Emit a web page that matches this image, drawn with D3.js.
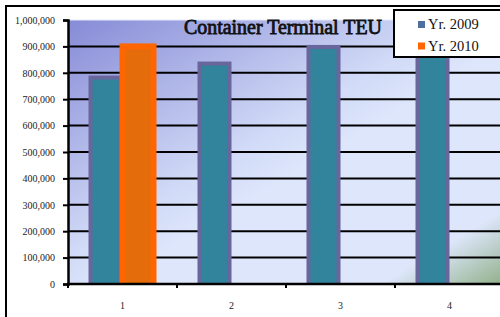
<!DOCTYPE html>
<html>
<head>
<meta charset="utf-8">
<script src="https://cdn.jsdelivr.net/npm/d3@7"></script>
<style>
html,body{margin:0;padding:0;background:#fff;}
svg{display:block;}
</style>
</head>
<body>
<svg id="c" width="500" height="317"></svg>
<script>
const categories = ["1", "2", "3", "4"];
const seriesNames = ["Yr. 2009", "Yr. 2010"];
const values2009 = [782000, 835000, 898000, 870000];
const values2010 = [900000, null, null, null];
const yTicks = [0,100000,200000,300000,400000,500000,600000,700000,800000,900000,1000000];
const titleText = "Container Terminal TEU";

const svg = d3.select("#c");
const pLeft = 68, pRight = 504, pTop = 20, pBottom = 284;
const SERIF = '"Liberation Serif","Times New Roman",Times,serif';

// outer frame
svg.append("rect").attr("x",6).attr("y",6).attr("width",600).attr("height",400)
  .attr("fill","#fff").attr("stroke","#000").attr("stroke-width",2);

const defs = svg.append("defs");
const g = defs.append("linearGradient").attr("id","bg")
  .attr("x1","0").attr("y1","0").attr("x2","1").attr("y2","1");
g.append("stop").attr("offset","0").attr("stop-color","#868bd6");
g.append("stop").attr("offset","0.45").attr("stop-color","#d2dbf7");
g.append("stop").attr("offset","0.55").attr("stop-color","#dde6fb");
g.append("stop").attr("offset","0.86").attr("stop-color","#dde6fb");
g.append("stop").attr("offset","1").attr("stop-color","#8fb088");
defs.append("clipPath").attr("id","plotclip").append("rect")
  .attr("x",pLeft).attr("y",0).attr("width",pRight-pLeft).attr("height",pBottom);

const x0 = d3.scaleBand().domain(categories).range([pLeft, pRight]).padding(0);
const bw = x0.bandwidth();
const x1 = d3.scaleBand().domain(seriesNames).range([bw/2 - 34, bw/2 + 34]);
const y = d3.scaleLinear().domain([0, 1000000]).range([pBottom, pTop]);

svg.append("rect").attr("x",pLeft).attr("y",pTop).attr("width",pRight-pLeft).attr("height",pBottom-pTop)
  .attr("fill","url(#bg)");
svg.append("line").attr("x1",pLeft).attr("x2",pRight).attr("y1",pTop).attr("y2",pTop)
  .attr("stroke","#e6eafc").attr("stroke-width",1);

// gridlines
svg.append("g").selectAll("line").data(yTicks.filter(t => t > 0 && t < 1000000)).join("line")
  .attr("x1",pLeft).attr("x2",pRight).attr("y1",d=>y(d)).attr("y2",d=>y(d))
  .attr("stroke","#000").attr("stroke-width",2);

const barsG = svg.append("g").attr("clip-path","url(#plotclip)");
// bars 2009
barsG.append("g").selectAll("rect").data(categories).join("rect")
  .attr("x",(d)=>x0(d)+x1("Yr. 2009")+2)
  .attr("y",(d,i)=>y(values2009[i]))
  .attr("width",x1.bandwidth()-4)
  .attr("height",(d,i)=>pBottom - y(values2009[i]) + 4)
  .attr("fill","#31849b").attr("stroke","#68669c").attr("stroke-width",4);

// bars 2010
barsG.append("g").selectAll("rect").data(categories.filter((d,i)=>values2010[i]!=null)).join("rect")
  .attr("x",(d)=>x0(d)+x1("Yr. 2010"))
  .attr("y",(d)=>y(values2010[categories.indexOf(d)]))
  .attr("width",x1.bandwidth()-3)
  .attr("height",(d)=>pBottom - y(values2010[categories.indexOf(d)]) + 4)
  .attr("fill","#e46c0a").attr("stroke","#ff6600").attr("stroke-width",6);

// y axis
const ya = svg.append("g").attr("transform",`translate(${pLeft},0)`)
  .call(d3.axisLeft(y).tickValues(yTicks).tickFormat(d3.format(",")).tickSize(5).tickPadding(8));
ya.attr("font-family", SERIF).attr("font-size", 10);
ya.select(".domain").attr("stroke","#000").attr("stroke-width",2.5);
ya.selectAll(".tick line").attr("stroke","#000").attr("stroke-width",2);
ya.selectAll("text").attr("fill","#222");

// x axis
svg.append("line").attr("x1",pLeft-1).attr("x2",pRight).attr("y1",pBottom).attr("y2",pBottom)
  .attr("stroke","#000").attr("stroke-width",2.5);
svg.append("g").selectAll("line").data(categories).join("line")
  .attr("x1",d=>x0(d)).attr("x2",d=>x0(d)).attr("y1",pBottom).attr("y2",pBottom+4)
  .attr("stroke","#000").attr("stroke-width",2);
svg.append("g").attr("font-family", SERIF).selectAll("text").data(categories).join("text")
  .attr("x",d=>x0(d)+bw/2).attr("y",pBottom+25).attr("text-anchor","middle")
  .attr("font-size",10).attr("fill","#222")
  .text(d=>d);

// title (synthetic bold serif)
const title = svg.append("text").attr("x",283).attr("y",34).attr("text-anchor","middle")
  .attr("font-family", SERIF).attr("font-weight","normal").attr("font-size",17)
  .attr("fill","#111").attr("stroke","#111").attr("stroke-width",0.8)
  .attr("paint-order","stroke").text(titleText);
const tw = title.node().getComputedTextLength();
if (tw > 0) title.attr("font-size", 17 * 198 / tw);

// legend
const lg = svg.append("g").attr("font-family", SERIF);
lg.append("rect").attr("x",394).attr("y",10).attr("width",200).attr("height",47)
  .attr("fill","#fff").attr("stroke","#000").attr("stroke-width",2);
const legColors = ["#4f6f9f","#ff6600"];
seriesNames.forEach((s,i)=>{
  lg.append("rect").attr("x",418).attr("y",21 + i*21.5).attr("width",7).attr("height",7)
    .attr("fill",legColors[i]);
  lg.append("text").attr("x",428).attr("y",29 + i*21.5)
    .attr("font-size",14.5).attr("fill","#111")
    .text(s);
});
</script>
</body>
</html>
